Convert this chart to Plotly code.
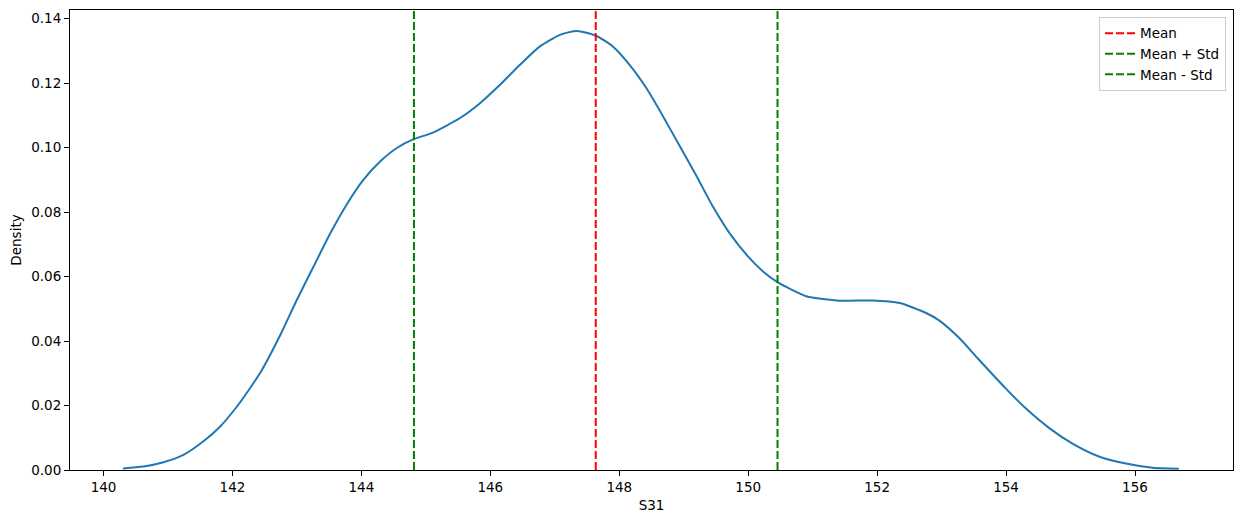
import plotly.graph_objects as go

# KDE curve of S31
kde_x = [140.30, 140.62, 140.93, 141.24, 141.55, 141.81, 142.07, 142.28, 142.45, 142.74,
         143.00, 143.26, 143.52, 143.77, 144.03, 144.29, 144.55, 144.82, 145.10,
         145.53, 145.84, 146.15, 146.46, 146.77, 147.08, 147.34, 147.64, 147.90, 148.16,
         148.42, 148.68, 148.94, 149.20, 149.45, 149.71, 150.00, 150.23, 150.46, 150.90,
         151.42, 151.93, 152.35, 152.76, 152.96, 153.27, 153.58, 153.99, 154.30, 154.67, 155.03,
         155.44, 155.86, 156.27, 156.68]
kde_y = [0.0005, 0.0011, 0.0024, 0.0047, 0.0089, 0.0135, 0.0197, 0.0256, 0.0308, 0.0418,
         0.0528, 0.0632, 0.0735, 0.0823, 0.0900, 0.0957, 0.0999, 0.1027, 0.1046,
         0.1092, 0.1138, 0.1195, 0.1257, 0.1314, 0.1350, 0.1362, 0.1347, 0.1314, 0.1257,
         0.1185, 0.1097, 0.1004, 0.0911, 0.0818, 0.0735, 0.0662, 0.0616, 0.0582, 0.0539,
         0.0525, 0.0526, 0.0518, 0.0487, 0.0464, 0.0410, 0.0342, 0.0254, 0.0192, 0.0130, 0.0082,
         0.0042, 0.0020, 0.0007, 0.0004]

mean_val = 147.635
std_val = 2.82

x_ticks = [140, 142, 144, 146, 148, 150, 152, 154, 156]
y_ticks = [0.00, 0.02, 0.04, 0.06, 0.08, 0.10, 0.12, 0.14]

x_range = [139.48, 157.52]
y_range = [0.0, 0.1427]

FONT = "DejaVu Sans"
fig = go.Figure()
fig.add_trace(go.Scatter(x=kde_x, y=kde_y, mode="lines",
                         line=dict(color="#1f77b4", width=2, shape="spline", smoothing=0.6),
                         showlegend=False, hoverinfo="skip"))
fig.add_trace(go.Scatter(x=[mean_val, mean_val], y=y_range, mode="lines", name="Mean",
                         line=dict(color="#ff0000", width=2, dash="8px,3px")))
fig.add_trace(go.Scatter(x=[mean_val + std_val] * 2, y=y_range, mode="lines", name="Mean + Std",
                         line=dict(color="#008000", width=2, dash="8px,3px")))
fig.add_trace(go.Scatter(x=[mean_val - std_val] * 2, y=y_range, mode="lines", name="Mean - Std",
                         line=dict(color="#008000", width=2, dash="8px,3px")))

axis_common = dict(showgrid=False, zeroline=False, showline=True, linecolor="black", linewidth=1,
                   mirror=True, ticks="outside", ticklen=5, tickwidth=1, tickcolor="black",
                   tickfont=dict(family=FONT, size=13.5, color="black"))
fig.update_xaxes(range=x_range, tickvals=x_ticks, ticktext=[str(t) for t in x_ticks],
                 title=dict(text="S31", font=dict(family=FONT, size=13.5, color="black"), standoff=6),
                 **axis_common)
fig.update_yaxes(range=y_range, tickvals=y_ticks, ticktext=[f"{t:.2f}" for t in y_ticks],
                 title=dict(text="Density", font=dict(family=FONT, size=13.5, color="black"), standoff=10),
                 **axis_common)

fig.update_layout(
    width=1242, height=525,
    margin=dict(l=62, r=17, t=2, b=63),
    plot_bgcolor="white", paper_bgcolor="white",
    font=dict(family=FONT, size=13.5, color="black"),
    legend=dict(x=0.994, y=0.985, xanchor="right", yanchor="top",
                bgcolor="rgba(255,255,255,0.8)", bordercolor="#cccccc", borderwidth=1,
                font=dict(family=FONT, size=13.5, color="black"),
                tracegroupgap=0, itemwidth=30),
)

fig.write_html("out.html")
